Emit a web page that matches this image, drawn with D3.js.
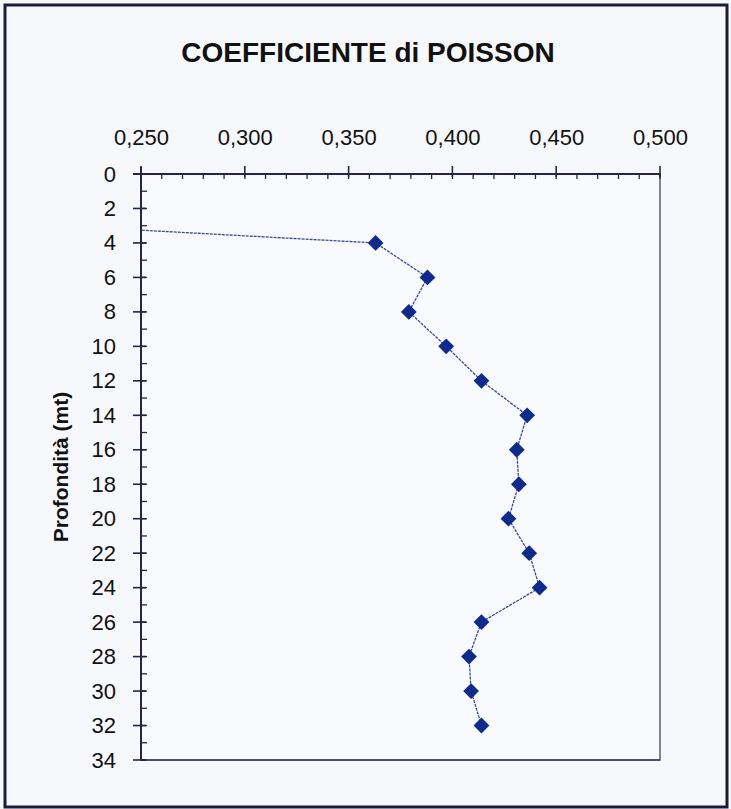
<!DOCTYPE html>
<html>
<head>
<meta charset="utf-8">
<script src="https://cdn.jsdelivr.net/npm/d3@7"></script>
<style>
  html, body { margin: 0; padding: 0; background: #f6f7fb; }
  svg { display: block; }
  text { font-family: "Liberation Sans", Arial, sans-serif; fill: #111; }
</style>
</head>
<body>
<svg id="chart" width="731" height="809"></svg>
<script>
// ---- data ----
const title = "COEFFICIENTE di POISSON";
const yTitle = "Profondità (mt)";
const depths = [2, 4, 6, 8, 10, 12, 14, 16, 18, 20, 22, 24, 26, 28, 30, 32];
const poisson = [0.058, 0.363, 0.388, 0.379, 0.397, 0.414, 0.436, 0.431, 0.432, 0.427, 0.437, 0.442, 0.414, 0.408, 0.409, 0.414];
const xTicks = [0.25, 0.30, 0.35, 0.40, 0.45, 0.50];
const xMinorTicks = d3.range(0.25, 0.5001, 0.01);
const yTicks = d3.range(0, 35, 2);
const yMinorTicks = d3.range(0, 35, 1);

const svg = d3.select("#chart");
const plot = { left: 141, right: 660, top: 174, bottom: 760 };

const x = d3.scaleLinear().domain([0.25, 0.5]).range([plot.left, plot.right]);
const y = d3.scaleLinear().domain([0, 34]).range([plot.top, plot.bottom]);
const fmt = d => d.toFixed(3).replace(".", ",");

// outer frame
svg.append("rect").attr("x", 5).attr("y", 5).attr("width", 722).attr("height", 802)
  .attr("fill", "#f7f8fc").attr("stroke", "#1c1c3a").attr("stroke-width", 3);

// title
svg.append("text").attr("x", 368).attr("y", 62).attr("text-anchor", "middle")
  .attr("font-size", 28).attr("font-weight", "bold").attr("fill", "#0d0d1a").text(title);

// plot area
svg.append("rect").attr("x", plot.left).attr("y", plot.top)
  .attr("width", plot.right - plot.left).attr("height", plot.bottom - plot.top)
  .attr("fill", "#f9fafd").attr("stroke", "#5a5e78").attr("stroke-width", 1.5);

// axis lines (left & top, darker)
const axisCol = "#23264a";
svg.append("line").attr("x1", plot.left - 8).attr("x2", plot.right).attr("y1", plot.top).attr("y2", plot.top)
  .attr("stroke", axisCol).attr("stroke-width", 2);
svg.append("line").attr("x1", plot.left).attr("x2", plot.left).attr("y1", plot.top - 7).attr("y2", plot.bottom)
  .attr("stroke", axisCol).attr("stroke-width", 2);
svg.append("line").attr("x1", plot.left).attr("x2", plot.right).attr("y1", plot.bottom).attr("y2", plot.bottom)
  .attr("stroke", "#4a4e70").attr("stroke-width", 2);

// x ticks
svg.append("g").selectAll("line.xm").data(xMinorTicks).join("line")
  .attr("x1", d => x(d)).attr("x2", d => x(d)).attr("y1", plot.top).attr("y2", plot.top + 5)
  .attr("stroke", axisCol).attr("stroke-width", 1.3);
svg.append("g").selectAll("line.xM").data(xTicks).join("line")
  .attr("x1", d => x(d)).attr("x2", d => x(d)).attr("y1", plot.top - 8).attr("y2", plot.top + 3)
  .attr("stroke", axisCol).attr("stroke-width", 1.6);
// y ticks
svg.append("g").selectAll("line.ym").data(yMinorTicks).join("line")
  .attr("x1", plot.left).attr("x2", plot.left + 6).attr("y1", d => y(d)).attr("y2", d => y(d))
  .attr("stroke", axisCol).attr("stroke-width", 1.3);
svg.append("g").selectAll("line.yM").data(yTicks).join("line")
  .attr("x1", plot.left - 8).attr("x2", plot.left + 5).attr("y1", d => y(d)).attr("y2", d => y(d))
  .attr("stroke", axisCol).attr("stroke-width", 1.6);

// axis labels via d3 axes
const xAxis = svg.append("g").attr("transform", `translate(0,${plot.top})`)
  .call(d3.axisTop(x).tickValues(xTicks).tickFormat(fmt).tickSize(0).tickPadding(29));
xAxis.select(".domain").remove();
xAxis.selectAll("text").attr("font-size", 22).attr("fill", "#0d0d1a")
  .style("font-family", "'Liberation Sans', Arial, sans-serif");

const yAxis = svg.append("g").attr("transform", `translate(${plot.left},0)`)
  .call(d3.axisLeft(y).tickValues(yTicks).tickFormat(d3.format("d")).tickSize(0).tickPadding(25));
yAxis.select(".domain").remove();
yAxis.selectAll("text").attr("font-size", 22).attr("fill", "#0d0d1a")
  .style("font-family", "'Liberation Sans', Arial, sans-serif");

// y title
svg.append("text").attr("transform", `translate(68,${(plot.top + plot.bottom) / 2}) rotate(-90)`)
  .attr("text-anchor", "middle").attr("font-size", 21).attr("font-weight", "bold")
  .attr("fill", "#0d0d1a").text(yTitle);

// clip for series
svg.append("clipPath").attr("id", "clip").append("rect")
  .attr("x", plot.left).attr("y", plot.top)
  .attr("width", plot.right - plot.left).attr("height", plot.bottom - plot.top);

const pts = depths.map((d, i) => ({ depth: d, v: poisson[i] }));
svg.append("path").datum(pts).attr("clip-path", "url(#clip)")
  .attr("fill", "none").attr("stroke", "#3a4a9a").attr("stroke-width", 1.3)
  .attr("stroke-dasharray", "3,1")
  .attr("d", d3.line().x(d => x(d.v)).y(d => y(d.depth)));

const sym = d3.symbol().type(d3.symbolSquare).size(125);
svg.append("g").attr("clip-path", "url(#clip)").selectAll("path.m")
  .data(pts.filter(p => p.v >= 0.25)).join("path")
  .attr("transform", d => `translate(${x(d.v)},${y(d.depth)}) rotate(45)`)
  .attr("d", sym).attr("fill", "#0e2a8a");
</script>
</body>
</html>
